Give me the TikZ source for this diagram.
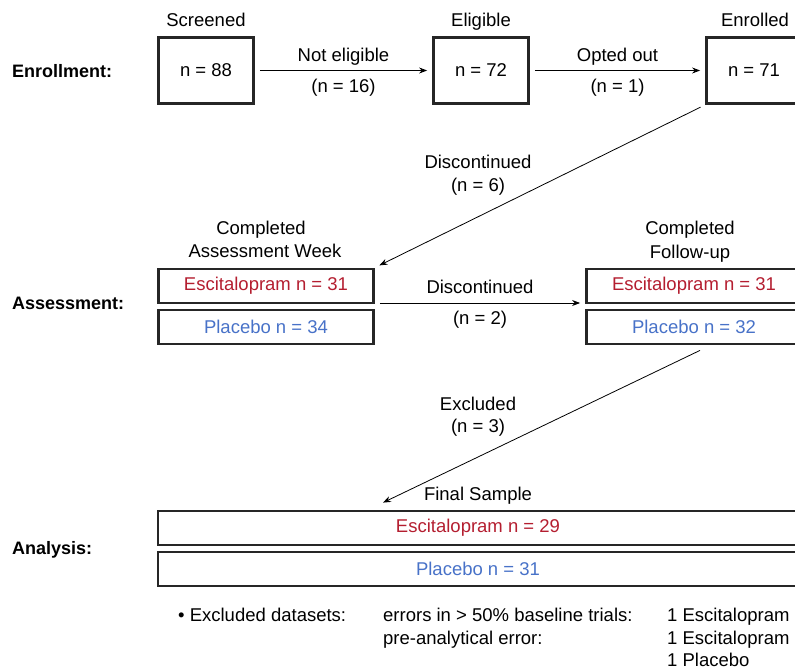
\documentclass[tikz,border=0pt]{standalone}
\usepackage{fontspec}
\setmainfont{Liberation Sans}
\usetikzlibrary{arrows.meta}
\definecolor{escred}{RGB}{180,30,48}
\definecolor{plablue}{RGB}{72,114,200}
\begin{document}
\begin{tikzpicture}[x=1pt,y=-1pt,
  every node/.style={font=\fontsize{18.5}{22}\selectfont, inner sep=0pt},
  box/.style={draw=black!85, line width=2.8pt, minimum width=95pt, minimum height=66pt},
  wbox/.style={draw=black!85, line width=2.8pt, minimum width=215pt, minimum height=34pt},
  fbox/.style={draw=black!85, line width=2.8pt, minimum width=640pt, minimum height=34pt},
  arr/.style={-{Stealth[length=8pt,width=6pt]}, line width=0.8pt, shorten <=5pt, shorten >=5pt},
  stage/.style={font=\fontsize{18}{22}\selectfont\bfseries, anchor=west, text height=13pt, text depth=3.5pt},
  lab/.style={font=\fontsize{18.5}{22}\selectfont, text height=13.5pt, text depth=3.5pt}
]
\useasboundingbox (0,0) rectangle (795,670);
\clip (0,0) rectangle (795,670);

% stage labels
\node[stage] (st1) at (12,73) {Enrollment:};
\node[stage] (st2) at (12,305) {Assessment:};
\node[stage] (st3) at (12,550) {Analysis:};

% enrollment boxes
\node[box] (scr) at (206,70.5) {n = 88};
\node[box] (eli) at (481,70.5) {n = 72};
\node[box] (enr) at (754,70.5) {n = 71};
\node[lab] (tscr) at (206,21) {Screened};
\node[lab] (teli) at (481,21) {Eligible};
\node[lab] (tenr) at (755,21) {Enrolled};

\draw[arr] (scr) -- (eli)
  node[midway, above=5pt, lab] (ne) {Not eligible}
  node[midway, below=8pt, lab] (ne2) {(n = 16)};
\draw[arr] (eli) -- (enr)
  node[midway, above=5pt, lab] (oo) {Opted out}
  node[midway, below=8pt, lab] (oo2) {(n = 1)};

% assessment boxes
\node[wbox, text=escred] (ae) at (266,286) {Escitalopram n = 31};
\node[wbox, text=plablue] (ap) at (266,327) {Placebo n = 34};
\node[wbox, text=escred] (fe) at (694,286) {Escitalopram n = 31};
\node[wbox, text=plablue] (fp) at (694,327) {Placebo n = 32};
\node[lab] (tac1) at (261,229) {Completed};
\node[lab] (tac2) at (265,252) {Assessment Week};
\node[lab] (tfc1) at (690,229) {Completed};
\node[lab] (tfc2) at (690,253) {Follow-up};

\draw[arr] (enr.south west) -- (ae.north east);
\node[lab] (d1) at (478,163) {Discontinued};
\node[lab] (d1n) at (478,186) {(n = 6)};

\draw[arr] ([yshift=-17pt]ae.east) -- ([yshift=-17pt]fe.west)
  node[midway, above=6pt, lab] (d2) {Discontinued}
  node[midway, below=8pt, lab] (d2n) {(n = 2)};

% analysis
\node[fbox, text=escred] (se) at (478,528) {Escitalopram n = 29};
\node[fbox, text=plablue] (sp) at (478,569) {Placebo n = 31};
\node[lab] (tfs) at (478,495) {Final Sample};

\coordinate (x0) at ([xshift=6pt, yshift=-5pt]fp.south);
\coordinate (x1) at ([xshift=-95pt, yshift=7pt]se.north);
\draw[-{Stealth[length=8pt,width=6pt]}, line width=0.8pt] (x0) -- (x1);
\node[lab] (ex) at (478,405) {Excluded};
\node[lab] (exn) at (478,427) {(n = 3)};

% bottom notes
\node[lab, anchor=west] (n1) at (178,616) {\textbullet\ Excluded datasets:};
\node[lab, anchor=west] (n2) at (383,616) {errors in > 50\% baseline trials:};
\node[lab, anchor=west] (n3) at (383,639) {pre-analytical error:};
\node[lab, anchor=west] (n4) at (667,616) {1 Escitalopram};
\node[lab, anchor=west] (n5) at (667,639) {1 Escitalopram};
\node[lab, anchor=west] (n6) at (667,661) {1 Placebo};
\end{tikzpicture}
\end{document}
